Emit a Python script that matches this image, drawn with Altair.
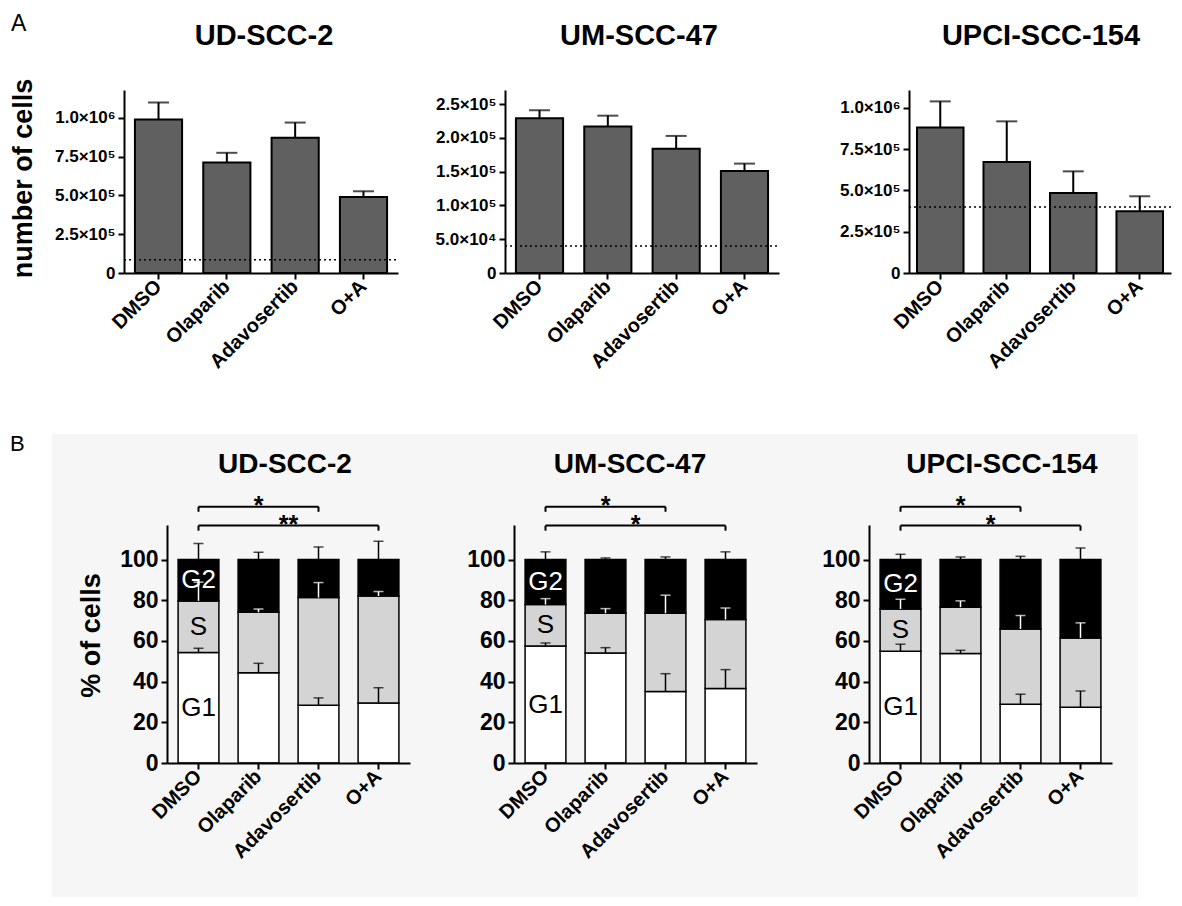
import altair as alt
import pandas as pd

treatments = ["DMSO", "Olaparib", "Adavosertib", "O+A"]
cell_lines = ["UD-SCC-2", "UM-SCC-47", "UPCI-SCC-154"]
phases = ["G1", "S", "G2"]

# ---- Panel A: number of cells (mean and SD) ----
cells_ud = [990000, 712000, 872000, 490000]
cells_um = [229000, 217000, 184000, 151000]
cells_upci = [881000, 673000, 485000, 374000]
cells_sd_ud = [110000, 63000, 98000, 37000]
cells_sd_um = [12000, 16000, 19000, 11000]
cells_sd_upci = [159000, 246000, 131000, 91000]
seeded_cells = [85000, 40000, 400000]

ticks_a_big = [0, 250000, 500000, 750000, 1000000]
labels_a_big = ["0", "2.5×10⁵", "5.0×10⁵", "7.5×10⁵", "1.0×10⁶"]
ticks_a_small = [0, 50000, 100000, 150000, 200000, 250000]
labels_a_small = ["0", "5.0×10⁴", "1.0×10⁵", "1.5×10⁵", "2.0×10⁵", "2.5×10⁵"]
ymax_a = [1180000, 271000, 1109000]

# ---- Panel B: cell cycle phases (% of cells, mean and SD) ----
g1_ud = [54.3, 44.4, 28.4, 29.5]
s_ud = [25.4, 29.7, 52.9, 52.6]
g2_ud = [20.3, 25.9, 18.7, 17.9]
g1_sd_ud = [2.1, 4.6, 3.6, 7.5]
s_sd_ud = [9.2, 1.6, 7.4, 2.2]
g2_sd_ud = [7.9, 3.6, 6.2, 9.0]

g1_um = [57.5, 54.1, 35.2, 36.6]
s_um = [20.4, 19.5, 38.4, 33.9]
g2_um = [22.1, 26.4, 26.4, 29.5]
g1_sd_um = [1.5, 2.6, 8.7, 9.3]
s_sd_um = [2.9, 2.3, 8.9, 5.7]
g2_sd_um = [3.8, 0.8, 1.3, 3.8]

g1_upci = [54.9, 53.8, 28.9, 27.4]
s_upci = [20.8, 22.8, 37.0, 34.1]
g2_upci = [24.3, 23.4, 34.1, 38.5]
g1_sd_upci = [3.5, 1.6, 4.9, 8.0]
s_sd_upci = [4.8, 3.1, 6.6, 7.4]
g2_sd_upci = [2.6, 1.3, 1.6, 5.7]

ticks_b = [0, 20, 40, 60, 80, 100]
sig_from = ["DMSO", "DMSO"]
sig_to = ["Adavosertib", "O+A"]
sig_ud = ["*", "**"]
sig_um = ["*", "*"]
sig_upci = ["*", "*"]

FONT = "Liberation Sans"
BRACKET_LEVELS = [126, 116.7]
LEG = 2.5
B_YMAX = 117
A_H, B_H = 183, 238
ONE = pd.DataFrame({"k": [0]})


def x_axis(size):
    return alt.Axis(title=None, labelAngle=-45, labelAlign="right", labelBaseline="middle",
                    labelFont=FONT, labelFontSize=size, labelFontWeight="bold", labelColor="black",
                    domainColor="black", domainWidth=2, tickColor="black", tickWidth=2, tickSize=6,
                    labelPadding=4, labelOverlap=False, grid=False, zindex=1)


def a_y_axis(ticks, labels, title):
    expr = " : ".join(f"datum.value == {v} ? '{l}'" for v, l in zip(ticks, labels)) + " : ''"
    kw = dict(values=ticks, labelExpr=expr, labelFont=FONT, labelFontSize=17, labelFontWeight="bold",
              labelColor="black", domainColor="black", domainWidth=2, tickColor="black", tickWidth=2,
              tickSize=6, labelPadding=3, grid=False, zindex=1)
    if title:
        kw.update(title=title, titleFont=FONT, titleFontSize=27, titleFontWeight="bold",
                  titleColor="black", titleX=-87, titleY=88)
    else:
        kw.update(title="")
    return alt.Axis(**kw)


def label_text(text, x, y, size, weight="bold", font=FONT, align="center", baseline="middle"):
    return alt.Chart(ONE).mark_text(text=text, font=font, fontSize=size, fontWeight=weight,
                                    color="black", align=align, baseline=baseline).encode(
        x=alt.value(x), y=alt.value(y))


def marker(y):
    # invisible zero-size mark that fixes an edge of the layout
    return alt.Chart(ONE).mark_rule(strokeOpacity=0, strokeWidth=1).encode(
        x=alt.value(0), x2=alt.value(1), y=alt.value(y))


def panel_a(name, vals, sds, thr, ymax, ticks, labels, width, band_w, p_inner, p_outer, title_x, first):
    df = pd.DataFrame({"treatment": treatments, "mean": vals,
                       "top": [v + s for v, s in zip(vals, sds)]})
    xs = alt.Scale(domain=treatments, range=[0, band_w], paddingInner=p_inner, paddingOuter=p_outer)
    x = alt.X("treatment:N", sort=treatments, scale=xs, axis=x_axis(20))
    ys = alt.Scale(domain=[0, ymax], nice=False, zero=True)
    yax = a_y_axis(ticks, labels, "number of cells" if first else None)
    base = alt.Chart(df)
    err = base.mark_rule(color="black", strokeWidth=2).encode(
        x=x, y=alt.Y("mean:Q", scale=ys, axis=yax), y2="top:Q")
    bars = base.mark_bar(color="#606060", stroke="black", strokeWidth=2).encode(
        x=x, y=alt.Y("mean:Q", scale=ys, axis=yax))
    cap = base.mark_tick(color="black", size=21, thickness=2).encode(
        x=x, y=alt.Y("top:Q", scale=ys, axis=yax))
    line = alt.Chart(pd.DataFrame({"thr": [thr]})).mark_rule(
        color="black", strokeWidth=1.5, strokeDash=[2, 3]).encode(
        x=alt.value(0), x2=alt.value(band_w), y=alt.Y("thr:Q", scale=ys, axis=yax))
    layers = [err, bars, cap, line, label_text(name, title_x, -54, 29)]
    if first:
        layers.append(label_text("A", -113, -77, 23, weight="normal", align="left", baseline="top"))
        layers.append(marker(-81))
        layers.append(marker(341))
    return alt.layer(*layers).properties(width=width, height=A_H)


def panel_b(name, g1, s, g2, g1sd, ssd, g2sd, sig, width, band, title_x, first):
    p_inner, p_outer = 0.32, 0.185
    rows, errs = [], []
    for t, a, b, c, ea, eb, ec in zip(treatments, g1, s, g2, g1sd, ssd, g2sd):
        rows += [dict(treatment=t, phase="G1", lo=0, hi=a),
                 dict(treatment=t, phase="S", lo=a, hi=a + b),
                 dict(treatment=t, phase="G2", lo=a + b, hi=a + b + c)]
        errs += [dict(treatment=t, phase="G1", lo=a, hi=a + ea),
                 dict(treatment=t, phase="S", lo=a + b, hi=a + b + eb),
                 dict(treatment=t, phase="G2", lo=a + b + c, hi=a + b + c + ec)]
    bars_df = pd.DataFrame(rows)
    err_df = pd.DataFrame(errs)
    xs = alt.Scale(domain=treatments, range=list(band), paddingInner=p_inner, paddingOuter=p_outer)
    x = alt.X("treatment:N", sort=treatments, scale=xs, axis=x_axis(20), bandPosition=0.5)
    ys = alt.Scale(domain=[0, B_YMAX], nice=False, zero=True)
    kw = dict(values=ticks_b, format="d", labelFont=FONT, labelFontSize=23, labelFontWeight="bold",
              labelColor="black", domainColor="black", domainWidth=2, tickColor="black", tickWidth=2,
              tickSize=6, labelPadding=3, grid=False, zindex=1, offset=-band[0])
    if first:
        kw.update(title="% of cells", titleFont=FONT, titleFontSize=27, titleFontWeight="bold",
                  titleColor="black", titleX=-62, titleY=110)
    else:
        kw.update(title="")
    yax = alt.Axis(**kw)

    def Y(f):
        return alt.Y(f, scale=ys, axis=yax)

    layers = []
    if first:
        layers.append(alt.Chart(ONE).mark_rect(color="#f6f6f6").encode(
            x=alt.value(-72), x2=alt.value(1014), y=alt.value(-91), y2=alt.value(372)))
    layers.append(alt.Chart(bars_df).mark_bar(stroke="black", strokeWidth=1.5).encode(
        x=x, y=Y("lo:Q"), y2="hi:Q",
        color=alt.Color("phase:N", scale=alt.Scale(domain=phases, range=["white", "#d4d4d4", "black"]),
                        legend=None)))
    blk = alt.Chart(err_df).transform_filter("datum.phase != 'S'")
    wht = alt.Chart(err_df).transform_filter("datum.phase == 'S'")
    for src, col in [(blk, "black"), (wht, "white")]:
        layers.append(src.mark_rule(color=col, strokeWidth=1.5).encode(x=x, y=Y("lo:Q"), y2="hi:Q"))
        layers.append(src.mark_tick(color=col, size=10, thickness=1.5).encode(x=x, y=Y("hi:Q")))
    # phase labels in the DMSO bar
    mids = [g1[0] / 2, g1[0] + s[0] / 2, g1[0] + s[0] + g2[0] / 2]
    lab_df = pd.DataFrame({"treatment": ["DMSO"] * 3, "phase": phases, "mid": mids})
    for cond, col in [("datum.phase != 'G2'", "black"), ("datum.phase == 'G2'", "white")]:
        layers.append(alt.Chart(lab_df).transform_filter(cond).mark_text(
            font=FONT, fontSize=26, color=col, baseline="middle", align="center").encode(
            x=x, y=Y("mid:Q"), text="phase:N"))
    # significance brackets
    step = (band[1] - band[0]) / (len(treatments) - p_inner + 2 * p_outer)
    br = pd.DataFrame({"a": sig_from, "b": sig_to, "lvl": BRACKET_LEVELS,
                       "low": [v - LEG for v in BRACKET_LEVELS], "lab": sig})
    xa = alt.X("a:N", sort=treatments, scale=xs, axis=x_axis(20), bandPosition=0.5)
    xb = alt.X("b:N", sort=treatments, scale=xs, axis=x_axis(20), bandPosition=0.5)
    layers.append(alt.Chart(br).mark_rule(color="black", strokeWidth=2).encode(
        x=xa, x2=alt.X2("b:N", bandPosition=0.5), y=Y("lvl:Q")))
    layers.append(alt.Chart(br).mark_rule(color="black", strokeWidth=2).encode(
        x=xa, y=Y("lvl:Q"), y2="low:Q"))
    layers.append(alt.Chart(br).mark_rule(color="black", strokeWidth=2).encode(
        x=xb, y=Y("lvl:Q"), y2="low:Q"))
    for i in range(len(sig)):
        dx = (treatments.index(sig_to[i]) - treatments.index(sig_from[i])) / 2 * step
        layers.append(alt.Chart(br.iloc[[i]]).mark_text(
            font=FONT, fontSize=25, fontWeight="bold", color="black", baseline="alphabetic",
            align="center", dx=dx, dy=7).encode(x=xa, y=Y("lvl:Q"), text="lab:N"))
    layers.append(label_text(name, title_x, -60, 28))
    if first:
        layers.append(label_text("B", -114, -91, 22, weight="normal", align="left", baseline="top"))
    return alt.layer(*layers).properties(width=width, height=B_H)


A1 = panel_a(cell_lines[0], cells_ud, cells_sd_ud, seeded_cells[0], ymax_a[0],
             ticks_a_big, labels_a_big, 274, 274, 0.31, 0.16, 140, True)
A2 = panel_a(cell_lines[1], cells_um, cells_sd_um, seeded_cells[1], ymax_a[1],
             ticks_a_small, labels_a_small, 297, 274, 0.31, 0.16, 134, False)
A3 = panel_a(cell_lines[2], cells_upci, cells_sd_upci, seeded_cells[2], ymax_a[2],
             ticks_a_big, labels_a_big, 262, 262, 0.30, 0.12, 132, False)

B1 = panel_b(cell_lines[0], g1_ud, s_ud, g2_ud, g1_sd_ud, s_sd_ud, g2_sd_ud, sig_ud,
             286, (43, 286), 161, True)
B2 = panel_b(cell_lines[1], g1_um, s_um, g2_um, g1_sd_um, s_sd_um, g2_sd_um, sig_um,
             251, (0, 243), 116, False)
B3 = panel_b(cell_lines[2], g1_upci, s_upci, g2_upci, g1_sd_upci, s_sd_upci, g2_sd_upci, sig_upci,
             243, (0, 243), 133, False)

rowA = alt.hconcat(A1, A2, A3, spacing=107, bounds="flush")
rowB = alt.hconcat(B1, B2, B3, spacing=104, bounds="flush")

chart = alt.vconcat(rowA, rowB, spacing=0).properties(
    padding=0, background="white").configure_view(stroke="transparent")

chart.save("out.html", embed_options={"renderer": "svg", "actions": False})
